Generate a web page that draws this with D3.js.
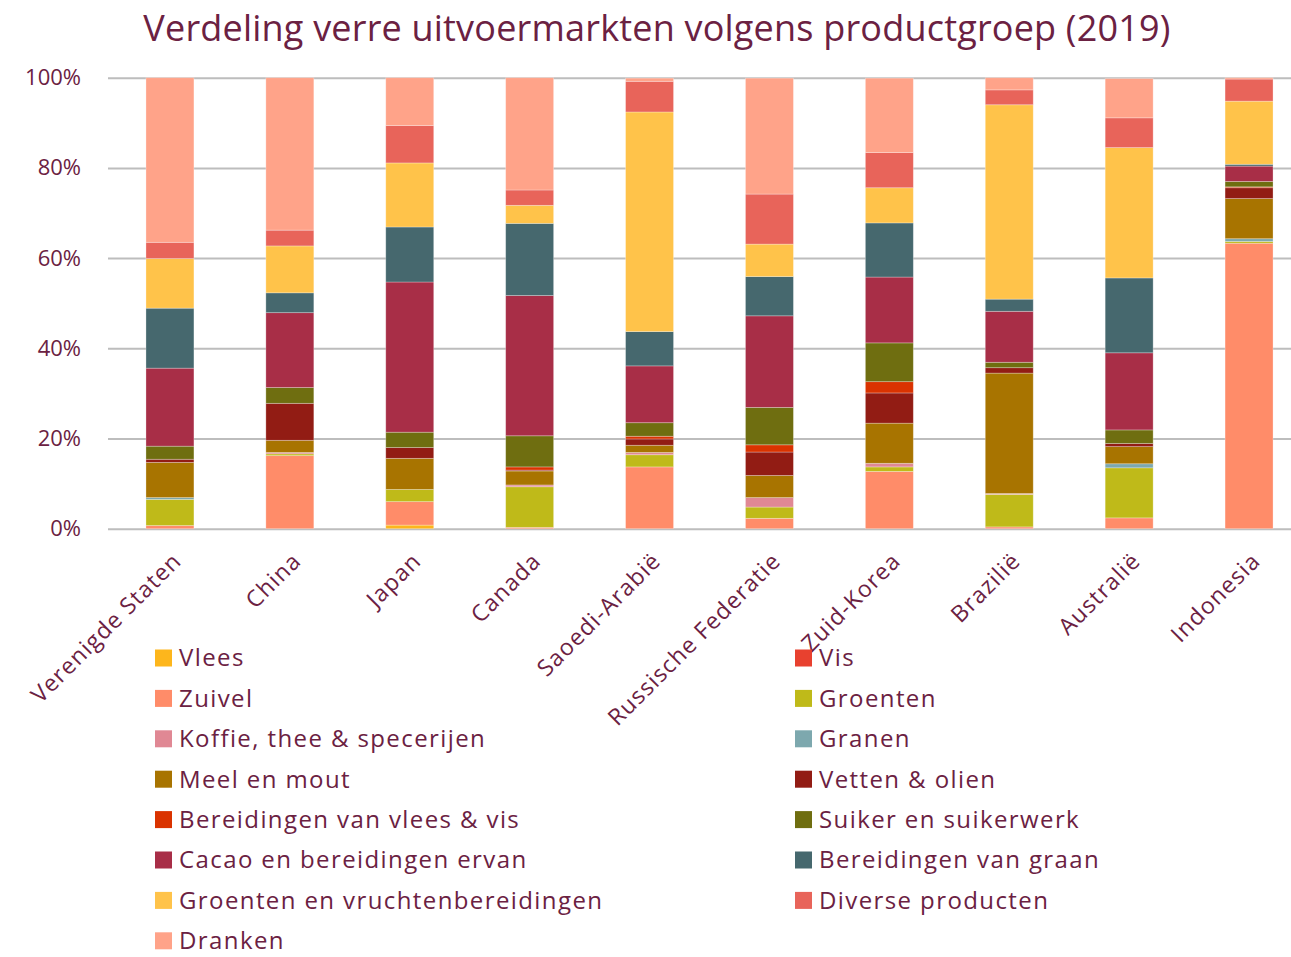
<!DOCTYPE html>
<html>
<head>
<meta charset="utf-8">
<script src="https://cdn.jsdelivr.net/npm/d3@7"></script>
<style>
  body { margin: 0; background: #fff; }
  svg { display: block; font-family: "Open Sans", "Lato", sans-serif; }
</style>
</head>
<body>
<div id="chart"></div>
<script>
// landen (x-as)
var countries = ["Verenigde Staten", "China", "Japan", "Canada", "Saoedi-Arabië",
  "Russische Federatie", "Zuid-Korea", "Brazilië", "Australië", "Indonesia"];

// productgroepen, in stapelvolgorde (onder naar boven)
var groups = ["Vlees", "Vis", "Zuivel", "Groenten", "Koffie, thee & specerijen", "Granen",
  "Meel en mout", "Vetten & olien", "Bereidingen van vlees  & vis", "Suiker en suikerwerk",
  "Cacao en bereidingen ervan", "Bereidingen van graan", "Groenten en vruchtenbereidingen",
  "Diverse producten", "Dranken"];

var colors = ["#fdb61c", "#e8412f", "#ff8c69", "#bfba19", "#e08894", "#7da8ae",
  "#a87400", "#921c14", "#da3300", "#6f6e10", "#a82e47", "#46686e", "#ffc34a",
  "#e8645a", "#ffa389"];

// aandeel in % per land, één array per productgroep
var vlees        = [0,    0,    0.8,  0,    0,    0,    0,    0,    0,    0];
var vis          = [0,    0,    0,    0,    0,    0,    0,    0,    0,    0];
var zuivel       = [0.7,  16.2, 5.2,  0.3,  13.7, 2.3,  12.7, 0.4,  2.4,  63.3];
var groenten     = [5.8,  0.4,  2.7,  9.0,  2.7,  2.5,  1.0,  7.2,  11.1, 0.4];
var koffie       = [0,    0.3,  0,    0.4,  0.5,  2.1,  0.8,  0.2,  0,    0];
var granen       = [0.4,  0,    0,    0,    0,    0,    0,    0,    0.9,  0.6];
var meel         = [7.8,  2.7,  6.9,  3.1,  1.6,  4.9,  8.9,  26.7, 3.8,  8.9];
var vetten       = [0.7,  8.2,  2.4,  0.2,  1.4,  5.2,  6.7,  1.2,  0.7,  2.4];
var bereidVleesVis = [0,  0,    0,    0.7,  0.6,  1.6,  2.5,  0,    0,    0.2];
var suiker       = [2.9,  3.5,  3.4,  6.9,  3.0,  8.3,  8.6,  1.2,  3.0,  1.2];
var cacao        = [17.3, 16.6, 33.3, 31.1, 12.6, 20.3, 14.6, 11.3, 17.1, 3.4];
var bereidGraan  = [13.3, 4.4,  12.2, 16.0, 7.6,  8.7,  12.0, 2.7,  16.6, 0.4];
var groentenVrucht = [11.0, 10.4, 14.2, 4.0, 48.7, 7.2, 7.8,  43.1, 28.9, 14.0];
var diverse      = [3.6,  3.5,  8.3,  3.4,  6.8,  11.1, 7.8,  3.3,  6.6,  4.9];
var dranken      = [36.5, 33.8, 10.6, 24.9, 0.7,  25.7, 16.5, 2.7,  8.7,  0.3];

var yTicks = [0, 20, 40, 60, 80, 100];

var series = [vlees, vis, zuivel, groenten, koffie, granen, meel, vetten, bereidVleesVis,
  suiker, cacao, bereidGraan, groentenVrucht, diverse, dranken];

var table = countries.map(function(c, i) {
  var row = {country: c};
  groups.forEach(function(g, j) { row[g] = series[j][i]; });
  return row;
});

var width = 1291, height = 957;
var textColor = "#6b2142";

var svg = d3.select("#chart").append("svg")
  .attr("width", width)
  .attr("height", height);

var x = d3.scaleBand()
  .domain(countries)
  .range([110, 1309])
  .paddingInner(0.6)
  .paddingOuter(0.3);

var y = d3.scaleLinear()
  .domain([0, 100])
  .range([528.7, 77.7]);

// titel
svg.append("text")
  .attr("x", 657)
  .attr("y", 41)
  .attr("text-anchor", "middle")
  .style("font-size", "36px")
  .style("letter-spacing", "0.2px")
  .style("fill", textColor)
  .text("Verdeling verre uitvoermarkten volgens productgroep (2019)");

// rasterlijnen + y-as
var yAxis = d3.axisLeft(y)
  .tickValues(yTicks)
  .tickSize(-(width - 108))
  .tickFormat(function(d) { return d + "%"; });

var gy = svg.append("g")
  .attr("transform", "translate(108,0)")
  .call(yAxis);
gy.select(".domain").remove();
gy.selectAll(".tick line")
  .attr("stroke", "#bdbdbd")
  .attr("stroke-width", 2);
gy.selectAll(".tick text")
  .attr("x", -27)
  .style("font-size", "22px")
  .style("font-family", "'Open Sans', sans-serif")
  .style("fill", textColor);

// gestapelde balken
var stack = d3.stack().keys(groups);
var layers = stack(table);

svg.append("g").selectAll("g")
  .data(layers)
  .enter().append("g")
  .attr("fill", function(d, i) { return colors[i]; })
  .selectAll("rect")
  .data(function(d) { return d; })
  .enter().append("rect")
  .attr("x", function(d) { return x(d.data.country); })
  .attr("width", x.bandwidth())
  .attr("y", function(d) { return y(d[1]); })
  .attr("height", function(d) { return Math.max(0, y(d[0]) - y(d[1])); })
  .attr("stroke", "#ffffff")
  .attr("stroke-opacity", 0.35)
  .attr("stroke-width", 0.8);

// x-as labels, schuin
var xAxis = d3.axisBottom(x).tickSize(0);
var gx = svg.append("g")
  .attr("transform", "translate(0,528.7)")
  .call(xAxis);
gx.select(".domain").remove();
gx.selectAll(".tick text")
  .style("font-size", "23px")
  .style("font-family", "'Open Sans', sans-serif")
  .style("letter-spacing", "1.1px")
  .style("fill", textColor)
  .attr("text-anchor", "end")
  .attr("x", 0)
  .attr("y", 0)
  .attr("dy", "0.35em")
  .attr("transform", "translate(7,28) rotate(-45)");

// legenda in twee kolommen
var legend = svg.append("g");
groups.forEach(function(g, i) {
  var col = i % 2, row = Math.floor(i / 2);
  var lx = col === 0 ? 155 : 795;
  var ly = 658 + row * 40.4;
  legend.append("rect")
    .attr("x", lx)
    .attr("y", ly - 8.5)
    .attr("width", 17)
    .attr("height", 17)
    .attr("fill", colors[i]);
  legend.append("text")
    .attr("x", lx + 24)
    .attr("y", ly)
    .attr("dy", "0.35em")
    .style("font-size", "24px")
    .style("letter-spacing", "1.4px")
    .style("fill", textColor)
    .text(g);
});
</script>
</body>
</html>
